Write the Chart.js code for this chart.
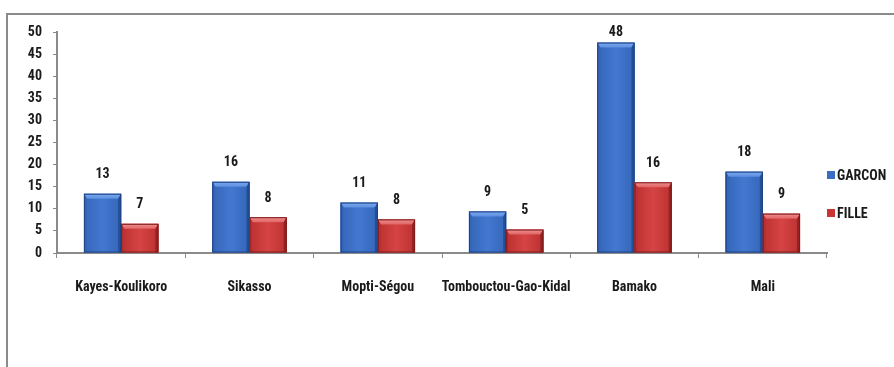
<!DOCTYPE html>
<html>
<head>
<meta charset="utf-8">
<script src="https://cdn.jsdelivr.net/npm/chart.js@4.4.1/dist/chart.umd.min.js"></script>
<style>
  html, body { margin: 0; padding: 0; background: #fff; }
  #wrap { position: relative; width: 894px; height: 367px; overflow: hidden; }
  #cadre { position: absolute; left: 6px; top: 13px; width: 900px; height: 400px;
           border-top: 2px solid #8a8a8a; border-left: 2px solid #8a8a8a; }
  #graphe { position: absolute; left: 0; top: 0; }
  #legende { position: absolute; left: 827px; top: 166px; color: #1a1a1a;
             font: bold 14px 'Roboto Condensed', 'Liberation Sans Narrow', sans-serif; }
  .item { display: flex; align-items: center; height: 18px; margin-bottom: 20px; }
  .carre { width: 8px; height: 8px; margin-right: 2px; }
</style>
</head>
<body>
<div id="wrap">
  <div id="cadre"></div>
  <canvas id="graphe" width="894" height="367"></canvas>
  <div id="legende"></div>
</div>
<script>
const categories = ['Kayes-Koulikoro', 'Sikasso', 'Mopti-Ségou', 'Tombouctou-Gao-Kidal', 'Bamako', 'Mali'];
const garcon = [13.4, 16.1, 11.4, 9.4, 47.6, 18.4];
const fille = [6.6, 8.1, 7.6, 5.3, 16.0, 8.9];
const series = ['GARCON', 'FILLE'];
const couleurs = ['#3a6ec4', '#cc3434'];

const police = "'Roboto Condensed', 'Liberation Sans Narrow', sans-serif";

// teintes pour l'effet biseau des barres
const teintes = [
    { cote: '#3565b8', milieu: '#4279d0', bord: '#234f98', haut: '#7eaaf0', hautFonce: '#5b8fe0', trait: '#1f4282' },
    { cote: '#bb3030', milieu: '#d64444', bord: '#952222', haut: '#f09090', hautFonce: '#e06464', trait: '#7c1c1c' }
];

const relief = {
    id: 'relief',
    afterDatasetsDraw(chart) {
        const ctx = chart.ctx;
        chart.data.datasets.forEach((ds, i) => {
            const t = teintes[i];
            chart.getDatasetMeta(i).data.forEach(bar => {
                const { x, y, base, width } = bar.getProps(['x', 'y', 'base', 'width'], true);
                const g = x - width / 2, d = x + width / 2, h = y, b = base;
                const e = Math.min(5, (b - h) / 2);
                const s = 3;
                ctx.save();
                const face = ctx.createLinearGradient(g, 0, d, 0);
                face.addColorStop(0, t.cote);
                face.addColorStop(0.5, t.milieu);
                face.addColorStop(1, t.cote);
                ctx.fillStyle = face;
                ctx.fillRect(g, h, width, b - h);

                const dessus = ctx.createLinearGradient(0, h, 0, h + e);
                dessus.addColorStop(0, t.haut);
                dessus.addColorStop(1, t.hautFonce);
                ctx.fillStyle = dessus;
                ctx.beginPath();
                ctx.moveTo(g, h); ctx.lineTo(d, h); ctx.lineTo(d - s, h + e); ctx.lineTo(g + s, h + e);
                ctx.closePath(); ctx.fill();

                ctx.fillStyle = t.bord;
                ctx.beginPath();
                ctx.moveTo(d, h); ctx.lineTo(d, b); ctx.lineTo(d - s, b); ctx.lineTo(d - s, h + e);
                ctx.closePath(); ctx.fill();

                ctx.fillStyle = t.cote;
                ctx.beginPath();
                ctx.moveTo(g, h); ctx.lineTo(g + s, h + e); ctx.lineTo(g + s, b); ctx.lineTo(g, b);
                ctx.closePath(); ctx.fill();

                ctx.strokeStyle = t.trait;
                ctx.lineWidth = 1;
                ctx.strokeRect(g + 0.5, h + 0.5, width - 1, b - h - 1);
                ctx.restore();
            });
        });
    }
};

const etiquettes = {
    id: 'etiquettes',
    afterDatasetsDraw(chart) {
        const ctx = chart.ctx;
        ctx.save();
        ctx.font = 'bold 14px ' + police;
        ctx.fillStyle = '#1a1a1a';
        ctx.textAlign = 'center';
        ctx.textBaseline = 'middle';
        chart.data.datasets.forEach((ds, i) => {
            chart.getDatasetMeta(i).data.forEach((bar, j) => {
                const yy = Math.max(bar.y - 19, chart.chartArea.top);
                ctx.fillText(Math.round(ds.data[j]), bar.x, yy);
            });
        });
        ctx.restore();
    }
};

const graphe = new Chart(document.getElementById('graphe'), {
    type: 'bar',
    data: {
        labels: categories,
        datasets: [
            { label: series[0], data: garcon, backgroundColor: couleurs[0], categoryPercentage: 0.58, barPercentage: 1 },
            { label: series[1], data: fille, backgroundColor: couleurs[1], categoryPercentage: 0.58, barPercentage: 1 }
        ]
    },
    options: {
        responsive: false,
        animation: false,
        devicePixelRatio: 1,
        layout: { padding: { top: 32, right: 67, bottom: 0, left: 0 } },
        plugins: { legend: { display: false }, tooltip: { enabled: false } },
        scales: {
            x: {
                grid: { drawOnChartArea: false, tickLength: 5, color: '#8a8a8a' },
                border: { color: '#8a8a8a', width: 2 },
                ticks: { font: { family: police, size: 14, weight: 'bold' }, color: '#1a1a1a', padding: 21,
                         maxRotation: 0, autoSkip: false },
                afterFit(s) { s.height = 114; }
            },
            y: {
                min: 0, max: 50,
                grid: { drawOnChartArea: false, tickLength: 4, color: '#8a8a8a' },
                border: { color: '#8a8a8a', width: 2 },
                ticks: { stepSize: 5, font: { family: police, size: 14, weight: 'bold' }, color: '#1a1a1a', padding: 11 },
                afterFit(s) { s.width = 57; }
            }
        }
    },
    plugins: [relief, etiquettes]
});

// légende à droite
const legende = document.getElementById('legende');
graphe.data.datasets.forEach(ds => {
    legende.innerHTML += `<div class="item"><span class="carre" style="background:${ds.backgroundColor}"></span>${ds.label}</div>`;
});
</script>
</body>
</html>
